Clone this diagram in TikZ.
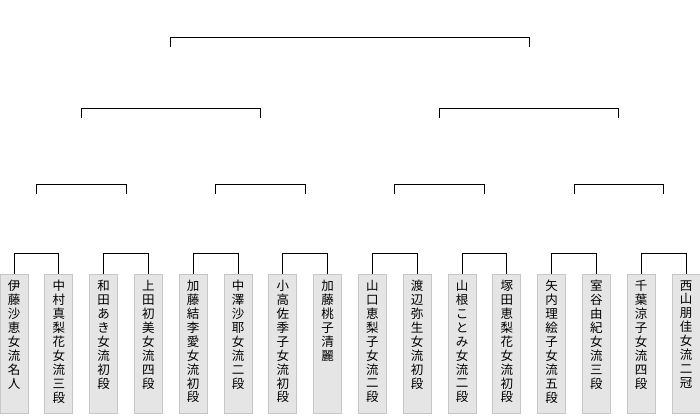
\documentclass[tikz,border=0pt]{standalone}
\usepackage{fontspec}
\newfontfamily\jpfont{Noto Sans CJK JP}
\usetikzlibrary{positioning}

% stack the characters of a name one below the other
\newcommand\tate[1]{\tatenext#1\relax}
\def\tatenext#1{\ifx\relax#1\else\hbox to 28pt{\hss#1\hss}\expandafter\tatenext\fi}
\newcommand\pname[1]{\parbox[c][139pt][t]{28pt}{\jpfont\fontsize{12.5pt}{13.9pt}\selectfont\vspace*{6pt}\tate{#1}}}

\begin{document}
\begin{tikzpicture}[x=1pt, y=-1pt,
    player/.style={draw=black!22, fill=black!10, line width=0.8pt, inner sep=0pt, anchor=north},
    bracket/.style={line width=1pt}
]
\useasboundingbox (0,0) rectangle (700,415);

\node[player] (p1) at (14,274) {\pname{伊藤沙恵女流名人}};
\node[player] (p2) at (58.8,274) {\pname{中村真梨花女流三段}};
\node[player] (p3) at (103.6,274) {\pname{和田あき女流初段}};
\node[player] (p4) at (148.4,274) {\pname{上田初美女流四段}};
\node[player] (p5) at (193.2,274) {\pname{加藤結李愛女流初段}};
\node[player] (p6) at (238,274) {\pname{中澤沙耶女流二段}};
\node[player] (p7) at (282.8,274) {\pname{小高佐季子女流初段}};
\node[player] (p8) at (327.6,274) {\pname{加藤桃子清麗}};
\node[player] (p9) at (372.4,274) {\pname{山口恵梨子女流二段}};
\node[player] (p10) at (417.2,274) {\pname{渡辺弥生女流初段}};
\node[player] (p11) at (462,274) {\pname{山根ことみ女流二段}};
\node[player] (p12) at (506.8,274) {\pname{塚田恵梨花女流初段}};
\node[player] (p13) at (551.6,274) {\pname{矢内理絵子女流五段}};
\node[player] (p14) at (596.4,274) {\pname{室谷由紀女流三段}};
\node[player] (p15) at (641.2,274) {\pname{千葉涼子女流四段}};
\node[player] (p16) at (686,274) {\pname{西山朋佳女流二冠}};

% first round
\draw[bracket] (p1.north) -- ++(0,-20.5) -| (p2.north);
\draw[bracket] (p3.north) -- ++(0,-20.5) -| (p4.north);
\draw[bracket] (p5.north) -- ++(0,-20.5) -| (p6.north);
\draw[bracket] (p7.north) -- ++(0,-20.5) -| (p8.north);
\draw[bracket] (p9.north) -- ++(0,-20.5) -| (p10.north);
\draw[bracket] (p11.north) -- ++(0,-20.5) -| (p12.north);
\draw[bracket] (p13.north) -- ++(0,-20.5) -| (p14.north);
\draw[bracket] (p15.north) -- ++(0,-20.5) -| (p16.north);

% second round
\coordinate (w1) at (36.4,194);
\coordinate (w2) at (126,194);
\coordinate (w3) at (215.6,194);
\coordinate (w4) at (305.2,194);
\coordinate (w5) at (394.8,194);
\coordinate (w6) at (484.4,194);
\coordinate (w7) at (574,194);
\coordinate (w8) at (663.6,194);
\draw[bracket] (w1) -- ++(0,-9.5) -| (w2);
\draw[bracket] (w3) -- ++(0,-9.5) -| (w4);
\draw[bracket] (w5) -- ++(0,-9.5) -| (w6);
\draw[bracket] (w7) -- ++(0,-9.5) -| (w8);

% semifinal
\coordinate (s1) at (81.2,118);
\coordinate (s2) at (260.4,118);
\coordinate (s3) at (439.6,118);
\coordinate (s4) at (618.8,118);
\draw[bracket] (s1) -- ++(0,-9.5) -| (s2);
\draw[bracket] (s3) -- ++(0,-9.5) -| (s4);

% final
\coordinate (f1) at (170.8,47);
\coordinate (f2) at (529.2,47);
\draw[bracket] (f1) -- ++(0,-9.5) -| (f2);

\end{tikzpicture}
\end{document}
